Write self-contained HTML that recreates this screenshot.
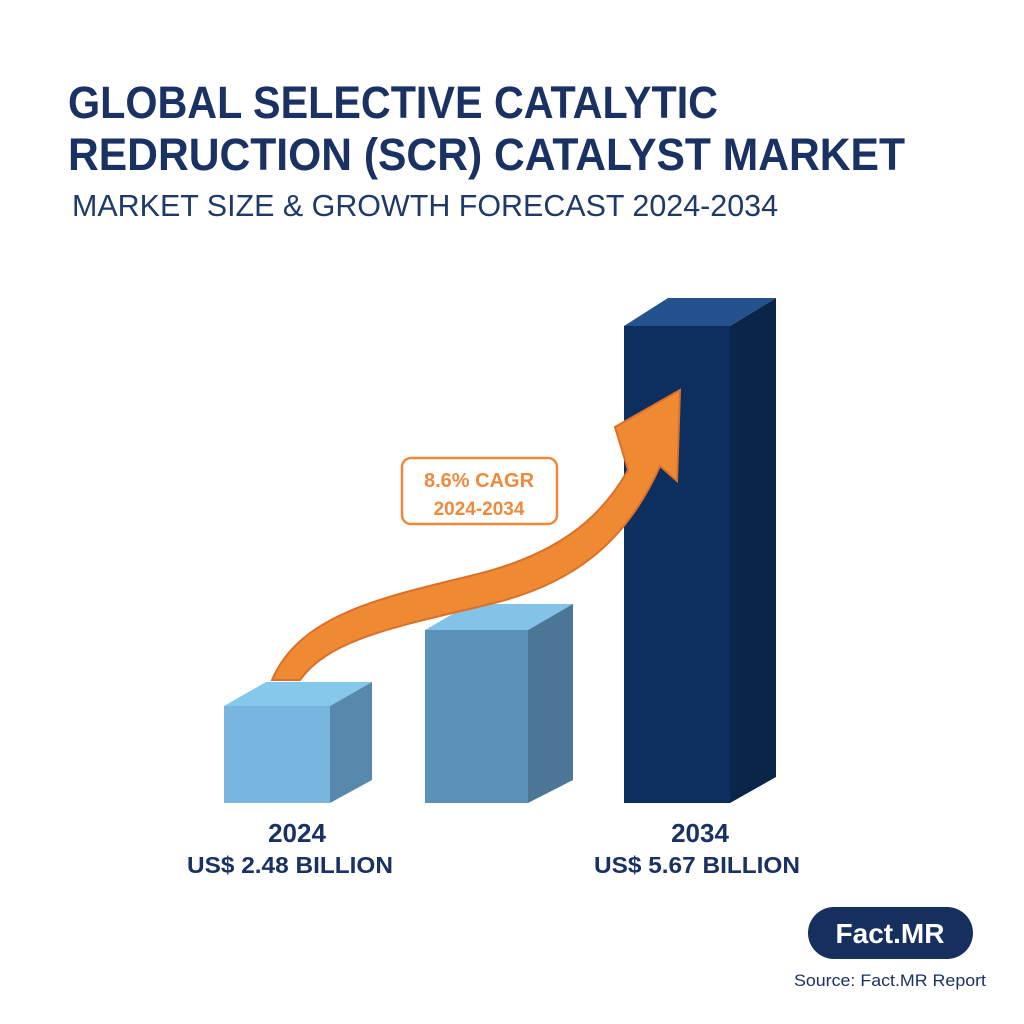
<!DOCTYPE html>
<html><head><meta charset="utf-8"><style>
html,body{margin:0;padding:0;background:#fff;}
svg{display:block;}
text{font-family:"Liberation Sans",sans-serif;}
</style></head><body>
<svg width="1024" height="1024" viewBox="0 0 1024 1024" xmlns="http://www.w3.org/2000/svg">
<rect width="1024" height="1024" fill="#ffffff"/>
<text x="68" y="118" font-size="45" font-weight="bold" fill="#1a3263" textLength="650" lengthAdjust="spacingAndGlyphs">GLOBAL SELECTIVE CATALYTIC</text>
<text x="68" y="170" font-size="45" font-weight="bold" fill="#1a3263" textLength="837" lengthAdjust="spacingAndGlyphs">REDRUCTION (SCR) CATALYST MARKET</text>
<text x="72" y="216" font-size="31" fill="#1f3a68" textLength="706" lengthAdjust="spacingAndGlyphs">MARKET SIZE &amp; GROWTH FORECAST 2024-2034</text>

<polygon points="224,706 266,682 372,682 330,706" fill="#86c8ec"/>
<rect x="224" y="706" width="106" height="97" fill="#78b6e0"/>
<polygon points="330,706 372,682 372,780 330,803" fill="#5689ab"/>
<polygon points="425,630 470,604 573,604 528,630" fill="#84c3e8"/>
<rect x="425" y="630" width="103" height="173" fill="#5b90b9"/>
<polygon points="528,630 573,604 573,780 528,803" fill="#4b7695"/>
<polygon points="624,326 668,298 776,298 730,326" fill="#24528e"/>
<rect x="624" y="326" width="106" height="477" fill="#0c2f5f"/>
<polygon points="730,326 776,298 776,777 730,803" fill="#0a2547"/>

<path d="M272,680 C300,615 380,598 470,576 C555,556 600,520 628,470 L615,427 L680,390 L677,481 L660,466 C625,545 570,585 490,604 C400,626 330,638 300,680 Z" fill="#f08a32" stroke="#d9712a" stroke-width="2"/>

<rect x="402" y="458" width="155" height="66" rx="9" fill="#fff" stroke="#ee8a3e" stroke-width="2.5"/>
<text x="479" y="487" font-size="20" font-weight="bold" fill="#ee8a3e" text-anchor="middle">8.6% CAGR</text>
<text x="479" y="515" font-size="19" font-weight="bold" fill="#ee8a3e" text-anchor="middle">2024-2034</text>

<text x="297" y="842" font-size="26" font-weight="bold" fill="#1a3263" text-anchor="middle">2024</text>
<text x="290" y="873" font-size="23" font-weight="bold" fill="#1a3263" text-anchor="middle" textLength="206" lengthAdjust="spacingAndGlyphs">US$ 2.48 BILLION</text>
<text x="700" y="842" font-size="26" font-weight="bold" fill="#1a3263" text-anchor="middle">2034</text>
<text x="697" y="873" font-size="23" font-weight="bold" fill="#1a3263" text-anchor="middle" textLength="206" lengthAdjust="spacingAndGlyphs">US$ 5.67 BILLION</text>

<rect x="808" y="907" width="165" height="52" rx="26" fill="#15305e"/>
<text x="890" y="943" font-size="28" font-weight="bold" fill="#fff" text-anchor="middle">Fact.MR</text>
<text x="890" y="986" font-size="17" fill="#1a3263" text-anchor="middle" textLength="192" lengthAdjust="spacingAndGlyphs">Source: Fact.MR Report</text>
</svg>
</body></html>
